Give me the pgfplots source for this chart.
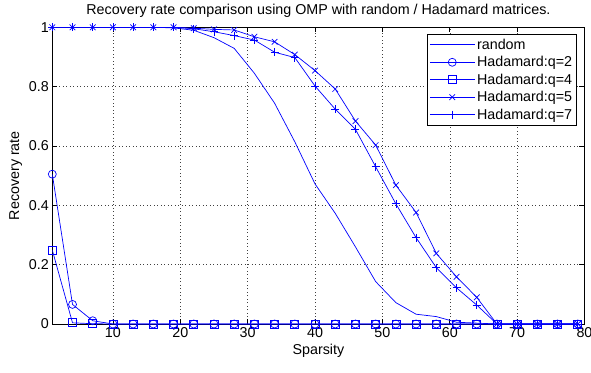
\documentclass[border=0pt]{standalone}
\usepackage{fontspec}
\setmainfont{Liberation Sans}
\usepackage{pgfplots}
\pgfplotsset{compat=1.18}
\begin{document}
\begin{tikzpicture}
\pgfplotsset{every axis/.append style={font=\fontsize{14.3}{17}\selectfont}}
\begin{axis}[
  at={(52.3pt,48pt)}, anchor=south west,
  scale only axis, width=532.2pt, height=296.7pt,
  xmin=1, xmax=80, ymin=0, ymax=1,
  xtick={10,20,...,80}, ytick={0,0.2,...,1},
  /pgf/number format/assume math mode=true,
  tick align=inside, major tick length=5pt,
  axis line style={black, line width=0.7pt},
  every tick/.style={black, line width=0.6pt},
  grid=major,
  grid style={black!75, line width=0.5pt, dash pattern=on 0.7pt off 2.8pt},
  title={Recovery rate comparison using OMP with random / Hadamard matrices.},
  title style={yshift=0pt},
  xlabel={Sparsity}, ylabel={Recovery rate},
  legend cell align=left,
  legend style={at={(1,1)}, anchor=north east, xshift=-7.5pt, yshift=-6.7pt,
    draw=black, line width=0.8pt, fill=white, inner sep=2.5pt, row sep=1.6pt,
    font=\fontsize{14.3}{17}\selectfont},
  legend image code/.code={\draw[mark repeat=2,mark phase=2] plot coordinates {(0pt,0pt) (22.5pt,0pt) (45pt,0pt)};},
  every axis plot/.append style={blue, line width=0.7pt, mark size=4pt, mark options={solid, line width=0.7pt}},
]
\addplot[no markers] coordinates {
(1,1)(4,1)(7,1)(10,1)(13,1)(16,1)(19,0.998)(22,0.99)(25,0.965)(28,0.929)(31,0.845)(34,0.744)(37,0.614)(40,0.472)(43,0.373)(46,0.26)(49,0.143)(52,0.072)(55,0.033)(58,0.025)(61,0.006)(64,0.003)(67,0)(70,0)(73,0)(76,0)(79,0)};
\addlegendentry{random}
\addplot[mark=o] coordinates {
(1,0.505)(4,0.066)(7,0.011)(10,0)(13,0)(16,0)(19,0)(22,0)(25,0)(28,0)(31,0)(34,0)(37,0)(40,0)(43,0)(46,0)(49,0)(52,0)(55,0)(58,0)(61,0)(64,0)(67,0)(70,0)(73,0)(76,0)(79,0)};
\addlegendentry{Hadamard:q=2}
\addplot[mark=square] coordinates {
(1,0.249)(4,0.004)(7,0.001)(10,0)(13,0)(16,0)(19,0)(22,0)(25,0)(28,0)(31,0)(34,0)(37,0)(40,0)(43,0)(46,0)(49,0)(52,0)(55,0)(58,0)(61,0)(64,0)(67,0)(70,0)(73,0)(76,0)(79,0)};
\addlegendentry{Hadamard:q=4}
\addplot[mark=x] coordinates {
(1,1)(4,1)(7,1)(10,1)(13,1)(16,1)(19,1)(22,0.997)(25,0.993)(28,0.991)(31,0.968)(34,0.951)(37,0.908)(40,0.854)(43,0.792)(46,0.684)(49,0.603)(52,0.468)(55,0.376)(58,0.238)(61,0.159)(64,0.09)(67,0)(70,0)(73,0)(76,0)(79,0)};
\addlegendentry{Hadamard:q=5}
\addplot[mark=+] coordinates {
(1,1)(4,1)(7,1)(10,1)(13,1)(16,1)(19,1)(22,0.995)(25,0.985)(28,0.972)(31,0.957)(34,0.916)(37,0.898)(40,0.802)(43,0.724)(46,0.656)(49,0.53)(52,0.405)(55,0.291)(58,0.19)(61,0.122)(64,0.064)(67,0)(70,0)(73,0)(76,0)(79,0)};
\addlegendentry{Hadamard:q=7}
\end{axis}
\pgfresetboundingbox
\path[use as bounding box] (0,0) rectangle (591pt,372pt);
\end{tikzpicture}
\end{document}
